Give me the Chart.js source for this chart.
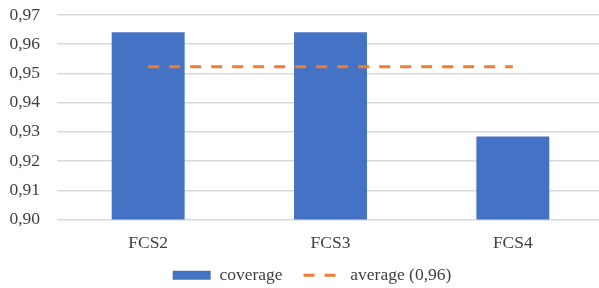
<!DOCTYPE html>
<html>
<head>
<meta charset="utf-8">
<script src="https://cdn.jsdelivr.net/npm/chart.js@4/dist/chart.umd.min.js"></script>
<style>
html,body{margin:0;padding:0;background:#fff;overflow:hidden;}
#wrap{position:relative;width:604px;height:288px;}
</style>
</head>
<body>
<div id="wrap"><canvas id="c"></canvas></div>
<script>
const categories = ["FCS2", "FCS3", "FCS4"];
const coverage = [0.9641, 0.9641, 0.9284];
const average = [0.9523, 0.9523, 0.9523];
const seriesNames = ["coverage", "average (0,96)"];
const yTicks = [0.90, 0.91, 0.92, 0.93, 0.94, 0.95, 0.96, 0.97];

const FONT = "'Liberation Serif', 'Times New Roman', serif";
const TXT = "#404040";
const FS = 17.5;

const legendShift = {
  id: 'legendShift',
  afterLayout(chart) {
    const lg = chart.legend;
    if (!lg) return;
    lg.top -= 12; lg.bottom -= 12;
    lg.left += 10; lg.right += 10;
  }
};

new Chart(document.getElementById('c'), {
  type: 'bar',
  data: {
    labels: categories,
    datasets: [
      {
        type: 'bar',
        label: seriesNames[0],
        data: coverage,
        backgroundColor: '#4472C4',
        borderWidth: 0,
        categoryPercentage: 1.0,
        barPercentage: 0.4,
        order: 2
      },
      {
        type: 'line',
        label: seriesNames[1],
        data: average,
        borderColor: '#ED7D31',
        backgroundColor: '#ED7D31',
        borderWidth: 3,
        borderDash: [11, 10],
        pointRadius: 0,
        fill: false,
        order: 1
      }
    ]
  },
  plugins: [legendShift],
  options: {
    responsive: true,
    maintainAspectRatio: false,
    animation: false,
    layout: { padding: { top: 15, right: 0, bottom: -18, left: 0 } },
    plugins: {
      tooltip: { enabled: false },
      legend: {
        position: 'bottom',
        labels: {
          usePointStyle: true,
          pointStyleWidth: 38,
          boxHeight: 9,
          padding: 21,
          color: TXT,
          font: { family: FONT, size: FS },
          generateLabels(chart) {
            const items = Chart.defaults.plugins.legend.labels.generateLabels(chart);
            items.forEach(it => {
              it.pointStyle = it.datasetIndex === 0 ? 'rect' : 'line';
              if (it.datasetIndex === 1) { it.lineWidth = 3; it.lineDash = [11, 10]; it.strokeStyle = '#ED7D31'; }
            });
            return items;
          },
          sort: (a, b) => a.datasetIndex - b.datasetIndex
        }
      }
    },
    scales: {
      x: {
        grid: { display: false, drawTicks: false },
        border: { display: false },
        ticks: { color: TXT, font: { family: FONT, size: FS }, padding: 13 },
        afterFit(scale) { scale.height = 38; }
      },
      y: {
        min: 0.90,
        max: 0.97,
        afterBuildTicks(scale) { scale.ticks = yTicks.map(v => ({ value: v })); },
        grid: { color: '#d9d9d9', lineWidth: 1.5, drawTicks: false },
        border: { display: false },
        ticks: {
          color: TXT,
          font: { family: FONT, size: FS },
          padding: 17,
          callback: v => Number(v).toFixed(2).replace('.', ',')
        },
        afterFit(scale) { scale.width = 57; scale.paddingTop = 0; scale.paddingBottom = 0; }
      }
    }
  }
});
</script>
</body>
</html>
